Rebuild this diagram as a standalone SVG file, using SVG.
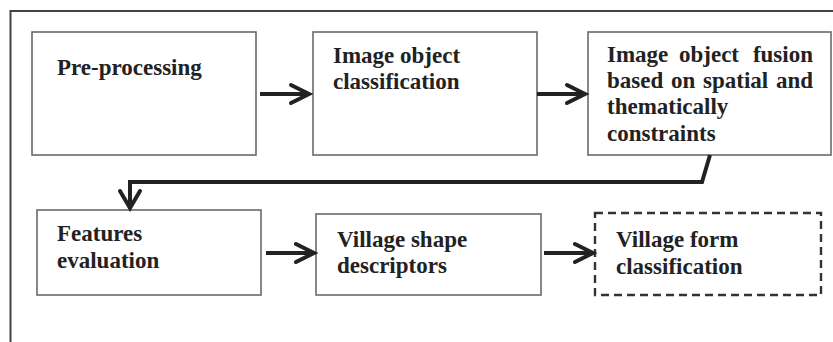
<svg xmlns="http://www.w3.org/2000/svg" width="833" height="342" viewBox="0 0 833 342">
<defs>
<style>
.box{fill:#fff;stroke:#6a6a6a;stroke-width:1.6}
.dash{fill:#fff;stroke:#333;stroke-width:2.4;stroke-dasharray:8 5}
.t{font-family:'Liberation Serif',serif !important;font-weight:700;font-size:23px;fill:#222}
.c{fill:none;stroke:#222;stroke-width:4;stroke-linejoin:miter}
.h{fill:none;stroke:#222;stroke-width:4;stroke-linecap:round;stroke-linejoin:miter}
</style>
</defs>
<rect x="0" y="0" width="833" height="342" fill="#fff"/>
<path d="M10.5 345 V11 H835" fill="none" stroke="#444" stroke-width="2"/>
<g id="n1">
<rect class="box" x="32" y="32" width="224" height="123"/>
<text class="t" style="font-family:'Liberation Serif',serif !important" x="57" y="75">Pre-processing</text>
</g>
<g id="n2">
<rect class="box" x="313" y="32" width="224" height="123"/>
<text class="t" style="font-family:'Liberation Serif',serif !important" x="333" y="63">Image object</text>
<text class="t" style="font-family:'Liberation Serif',serif !important" x="333" y="89">classification</text>
</g>
<g id="n3">
<rect class="box" x="588" y="32" width="243" height="123"/>
<text class="t" style="font-family:'Liberation Serif',serif !important" y="62"><tspan x="607">Image</tspan><tspan x="679">object</tspan><tspan x="813" text-anchor="end">fusion</tspan></text>
<text class="t" style="font-family:'Liberation Serif',serif !important" y="88"><tspan x="607">based</tspan><tspan x="671">on</tspan><tspan x="703">spatial</tspan><tspan x="813" text-anchor="end">and</tspan></text>
<text class="t" style="font-family:'Liberation Serif',serif !important" x="607" y="114">thematically</text>
<text class="t" style="font-family:'Liberation Serif',serif !important" x="607" y="141">constraints</text>
</g>
<g id="n4">
<rect class="box" x="37" y="210" width="224" height="85"/>
<text class="t" style="font-family:'Liberation Serif',serif !important" x="57" y="241">Features</text>
<text class="t" style="font-family:'Liberation Serif',serif !important" x="57" y="268">evaluation</text>
</g>
<g id="n5">
<rect class="box" x="316" y="214" width="225" height="81"/>
<text class="t" style="font-family:'Liberation Serif',serif !important" x="337" y="247">Village shape</text>
<text class="t" style="font-family:'Liberation Serif',serif !important" x="337" y="273">descriptors</text>
</g>
<g id="n6">
<rect class="dash" x="595" y="213" width="226" height="82"/>
<text class="t" style="font-family:'Liberation Serif',serif !important" x="616" y="247">Village form</text>
<text class="t" style="font-family:'Liberation Serif',serif !important" x="616" y="274">classification</text>
</g>
<g id="connectors">
<line class="c" x1="260" y1="94" x2="307" y2="94"/>
<path class="h" d="M291 85 L309 94 L291 103"/>
<line class="c" x1="537" y1="94" x2="583" y2="94"/>
<path class="h" d="M567 85 L585 94 L567 103"/>
<path class="c" d="M710 155 L702 182 H130 V206"/>
<path class="h" d="M120 191 L130 208 L140 191"/>
<line class="c" x1="266" y1="253" x2="312" y2="253"/>
<path class="h" d="M296 244 L314 253 L296 262"/>
<line class="c" x1="544" y1="253" x2="590" y2="253"/>
<path class="h" d="M575 244 L593 253 L575 262"/>
</g>
</svg>
